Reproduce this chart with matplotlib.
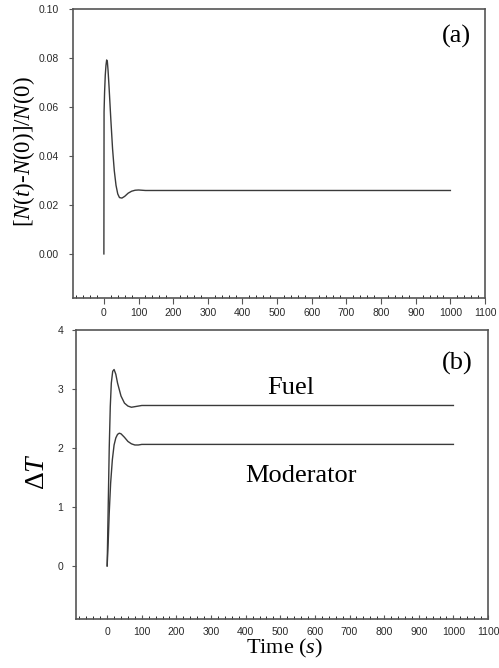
import numpy as np
import matplotlib
matplotlib.use("Agg")
import matplotlib.pyplot as plt
from matplotlib.ticker import MultipleLocator

plt.rcParams['font.family'] = ['Liberation Sans', 'DejaVu Sans']
plt.rcParams['mathtext.fontset'] = 'custom'
plt.rcParams['mathtext.rm'] = 'Liberation Serif'
plt.rcParams['mathtext.it'] = 'Liberation Serif:italic'

# (a) relative power
t_power = [0, 0.5, 2, 4, 6, 8, 10, 12, 15, 20, 25, 30, 35, 40, 45, 52, 60, 70, 80, 90, 100, 120, 1000]
power = [0.0, 0.058, 0.066, 0.073, 0.077, 0.0792, 0.0785, 0.075, 0.068, 0.055, 0.043, 0.034,
         0.028, 0.0245, 0.023, 0.0228, 0.0235, 0.0248, 0.0256, 0.026, 0.0261, 0.0259, 0.0259]

# (b) temperature rise
t_fuel = [0, 3, 6, 9, 12, 16, 20, 25, 30, 40, 50, 60, 70, 80, 90, 100, 1000]
fuel = [0.0, 1.0, 2.0, 2.7, 3.1, 3.3, 3.33, 3.25, 3.1, 2.88, 2.76, 2.71, 2.69, 2.70, 2.71, 2.72, 2.72]
t_mod = [0, 3, 6, 10, 15, 20, 25, 30, 35, 40, 50, 60, 70, 80, 90, 100, 1000]
moderator = [0.0, 0.4, 0.9, 1.4, 1.8, 2.05, 2.17, 2.23, 2.25, 2.24, 2.18, 2.11, 2.07, 2.05, 2.05, 2.06, 2.06]

line_c = '#3a3a3a'
spine_c = '#555555'
serif = 'Liberation Serif'

fig = plt.figure(figsize=(4.99, 6.68), dpi=100)
ax1 = fig.add_axes([0.1457, 0.5539, 0.8263, 0.4326])
ax2 = fig.add_axes([0.1523, 0.0734, 0.8257, 0.4326])

for ax in (ax1, ax2):
    for s in ax.spines.values():
        s.set_color(spine_c)
        s.set_linewidth(1.2)
    ax.set_xlim(-90, 1100)
    ax.xaxis.set_major_locator(MultipleLocator(100))
    ax.xaxis.set_minor_locator(MultipleLocator(20))
    ax.tick_params(axis='both', labelsize=7.5, colors=spine_c, labelcolor='#2a2a2a', width=0.8)
    ax.tick_params(axis='x', which='minor', direction='in', length=2)
    ax.tick_params(axis='y', which='minor', left=False)

ax1.tick_params(axis='y', which='major', direction='out', length=3, pad=7)
ax2.tick_params(axis='y', which='major', direction='out', length=3, pad=6)
ax1.tick_params(axis='x', which='major', direction='out', length=4)
ax2.tick_params(axis='x', which='major', direction='in', length=3, pad=6)

ax1.plot(t_power, power, color=line_c, lw=1.0)
ax1.set_ylim(-0.018, 0.10)
ax1.set_yticks([0.0, 0.02, 0.04, 0.06, 0.08, 0.10])
ax1.set_yticklabels(['0.00', '0.02', '0.04', '0.06', '0.08', '0.10'])
ax1.text(1017, 0.0886, '(a)', fontsize=19, family=serif, ha='center', va='center')
fig.text(24 / 499, 1 - 152 / 668, r'[$N$($t$)-$N$(0)]/$N$(0)', rotation=90, fontsize=16.5,
         family=serif, ha='center', va='center')

ax2.plot(t_fuel, fuel, color=line_c, lw=1.0)
ax2.plot(t_mod, moderator, color=line_c, lw=1.0)
ax2.set_ylim(-0.9, 4)
ax2.set_yticks([0, 1, 2, 3, 4])
ax2.text(1012, 3.43, '(b)', fontsize=19, family=serif, ha='center', va='center')
ax2.text(529, 3.02, 'Fuel', fontsize=19, family=serif, ha='center', va='center')
ax2.text(559, 1.52, 'Moderator', fontsize=19, family=serif, ha='center', va='center')
fig.text(38 / 499, 1 - 472 / 668, r'$\mathrm{\Delta}\mathit{T}$', rotation=90, fontsize=20,
         family=serif, ha='center', va='center')
fig.text(285 / 499, 1 - 648 / 668, r'Time ($s$)', fontsize=16,
         family=serif, ha='center', va='center')

fig.savefig('out.png', dpi=100)
